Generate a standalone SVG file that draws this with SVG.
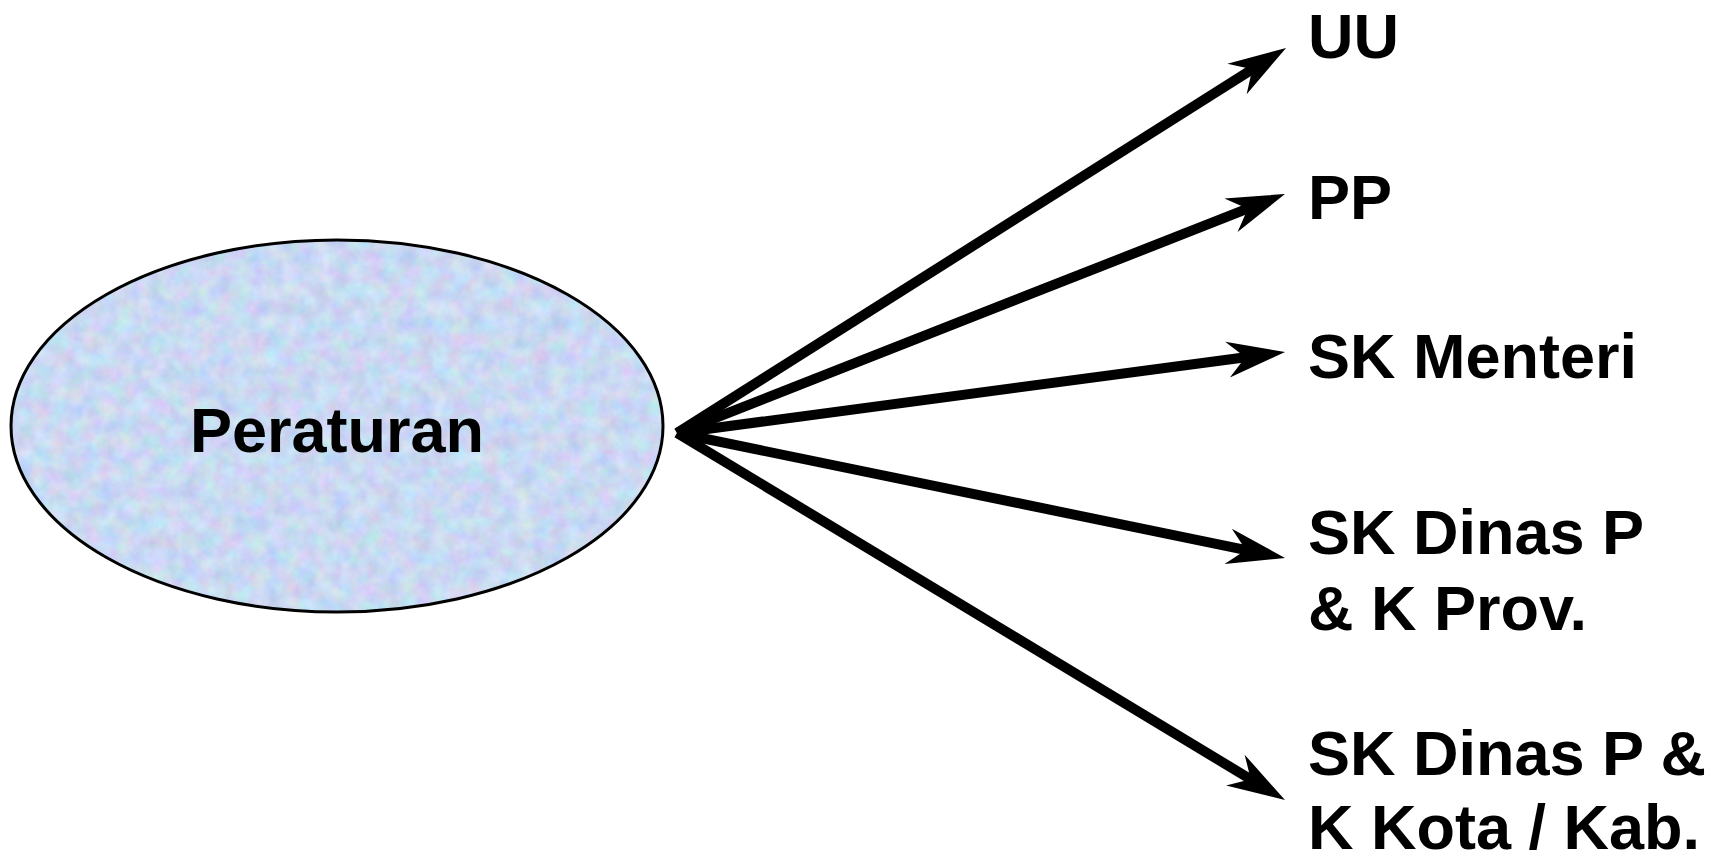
<svg xmlns="http://www.w3.org/2000/svg" width="1727" height="858" viewBox="0 0 1727 858">
<style>
.lbl{font-family:"Liberation Sans",Arial,sans-serif;font-weight:bold;font-size:63px;fill:#000}
.conn{stroke:#000;stroke-width:10;fill:none;marker-end:url(#ah)}
</style>
<defs>
<marker id="ah" markerUnits="userSpaceOnUse" markerWidth="62" markerHeight="40" viewBox="0 -20 62 40" refX="28" refY="0" orient="auto">
<path d="M60,0 L2,-18 L20,0 L2,18 Z" fill="#000"/>
</marker>
<filter id="tex" x="0" y="0" width="100%" height="100%" color-interpolation-filters="sRGB">
<feTurbulence type="fractalNoise" baseFrequency="0.06" numOctaves="3" seed="7" result="n"/>
<feColorMatrix in="n" type="matrix" values="0.24 0 0 0 0.67  0 0.2 0 0 0.75  0 0 0.14 0 0.88  0 0 0 0 1" result="c"/>
<feComposite in="c" in2="SourceGraphic" operator="in"/>
</filter>
</defs>
<rect width="1727" height="858" fill="#fff"/>
<g id="connectors">
<line class="conn" x1="677" y1="433" x2="1259.0" y2="65.1"/>
<line class="conn" x1="677" y1="433" x2="1255.2" y2="205.7"/>
<line class="conn" x1="677" y1="433" x2="1253.3" y2="356.2"/>
<line class="conn" x1="677" y1="433" x2="1253.7" y2="551.6"/>
<line class="conn" x1="677" y1="433" x2="1257.6" y2="783.5"/>
</g>
<g id="peraturan">
<ellipse cx="337" cy="426" rx="326" ry="186" fill="#c8d8f4" filter="url(#tex)"/>
<ellipse cx="337" cy="426" rx="326" ry="186" fill="none" stroke="#000" stroke-width="3"/>
<text class="lbl" x="337" y="452" text-anchor="middle">Peraturan</text>
</g>
<g id="uu"><text class="lbl" x="1308" y="58">UU</text></g>
<g id="pp"><text class="lbl" x="1308" y="219">PP</text></g>
<g id="sk-menteri"><text class="lbl" x="1308" y="378">SK Menteri</text></g>
<g id="sk-dinas-prov"><text class="lbl" x="1308" y="554">SK Dinas P</text><text class="lbl" x="1308" y="630">&amp; K Prov.</text></g>
<g id="sk-dinas-kota"><text class="lbl" x="1308" y="775">SK Dinas P &amp;</text><text class="lbl" x="1308" y="849">K Kota / Kab.</text></g>
</svg>
